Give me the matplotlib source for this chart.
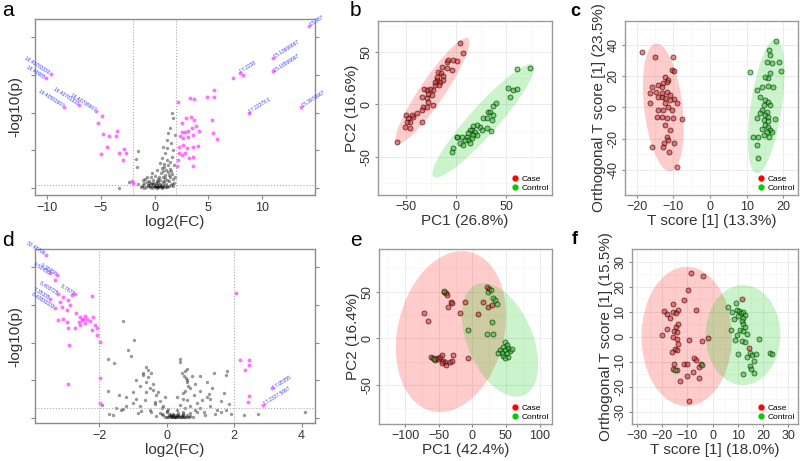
import matplotlib
matplotlib.use('Agg')
import matplotlib.pyplot as plt
from matplotlib.patches import Ellipse
from matplotlib.lines import Line2D
from matplotlib.ticker import MultipleLocator

plt.rcParams['font.family'] = ['Liberation Sans', 'DejaVu Sans']

# ---------------- data ----------------

# a: volcano plot, non-significant features (black)
a_bg_x = [1.66, 1.75, 1.44, 1.29, 1.13, 0.82, 0.98, 0.67, 0.51, 1.13, 1.6, 1.75, 0.2, -0.26, -0.73,
          -1.04, -1.57, -1.75, -1.66, -3.3, -2.34, 1.5, 1.9, 1.2, 1.85, 1.4, 0.9, 1.0, 0.6, 0.3,
          -1.5, -1.2, -1.0, -0.8, -0.6, -0.5, -0.4, -0.3, -0.2, -0.1, 0.0, 0.1, 0.15, 0.25, 0.35,
          0.45, 0.55, 0.6, 0.7, 0.8, 0.9, 1.0, 1.1, 1.2, 1.3, 1.45, 1.55, 1.7, 1.85, -0.9,
          -0.7, 0.05, 0.4, 0.75, -0.35, 1.25, 1.65, 0.2, -0.15, 0.5, 0.3, 0.1, -0.05, 0.65, 0.85,
          -1.3, -1.1, -0.95, -0.55, -0.25, 0.0, 0.2, 0.4, 0.65, 0.95, 1.15, 1.35, 1.6, -0.45, 0.8,
          1.05, 1.25, 1.45, 0.7, 0.9, 1.55, 1.35, 1.15, -0.1, 0.3, 0.55, 0.75, 1.7, 1.9, -0.65]
a_bg_y = [19.9, 18.5, 15.9, 14.5, 12.8, 11.0, 9.2, 7.9, 6.6, 7.4, 8.3, 10.1, 4.8, 3.9, 3.0,
          2.1, 9.7, 7.6, 5.7, 0.1, 1.7, 12.0, 14.0, 10.5, 6.0, 5.0, 5.5, 3.5, 4.0, 2.5,
          1.0, 0.5, 1.2, 0.3, 0.8, 1.8, 0.2, 1.0, 0.5, 2.0, 0.3, 1.2, 0.6, 0.2, 1.5,
          0.4, 2.2, 0.9, 0.3, 1.6, 0.7, 2.6, 1.0, 0.4, 1.9, 3.0, 0.8, 2.4, 1.3, 2.4,
          1.6, 3.2, 3.0, 2.9, 2.8, 4.2, 3.8, 1.8, 1.4, 1.1, 0.6, 0.9, 0.4, 0.5, 1.9,
          0.2, 0.8, 0.1, 0.4, 0.1, 0.6, 0.1, 0.2, 0.1, 0.3, 0.2, 0.5, 1.1, 1.3, 4.6,
          4.8, 6.2, 7.0, 5.2, 6.4, 4.4, 3.4, 2.2, 1.0, 0.7, 0.5, 0.4, 0.6, 3.0, 0.9]

# a: significant features (magenta)
a_sig_x = [-9.66, -10.1, -8.39, -7.02, -5.44, -4.86, -5.23, -4.76, -4.2, -3.61, -3.46, -4.45, -4.98,
           -3.3, -2.81, -2.65, -2.96, -2.0, -2.05, 2.22, 3.33, 3.67, 4.91, 5.56, 5.56, 5.32, 5.47,
           5.84, 7.27, 7.89, 8.26, 8.73, 11.0, 11.0, 14.37, 13.63, 2.53, 2.9, 3.36, 3.71, 2.53,
           2.84, 3.15, 3.46, 3.86, 4.17, 2.37, 2.68, 3.15, 3.61, 2.28, 2.62, 2.99, 3.55, 4.02,
           2.28, 2.53, 2.84, 3.21, 3.61, 3.55, 2.22, 2.06]
a_sig_y = [30.3, 29.1, 21.5, 22.1, 20.5, 19.1, 17.4, 14.3, 13.8, 13.9, 15.2, 11.0, 9.0,
           9.4, 10.3, 9.4, 7.4, 1.3, 1.8, 22.8, 23.9, 23.6, 24.1, 26.1, 24.2, 18.1, 14.5,
           12.9, 29.3, 30.5, 30.0, 19.9, 34.6, 31.0, 43.1, 21.6, 17.2, 18.7, 18.8, 18.1, 15.0,
           15.0, 15.2, 15.9, 16.5, 15.2, 13.7, 13.2, 13.5, 14.1, 11.0, 11.3, 10.5, 11.0, 11.2,
           9.2, 8.8, 9.2, 7.9, 8.2, 5.9, 7.4, 5.9]

# a: annotated features
a_lab_left = ['16.40783333', '16.40985', '16.40581667', '16.40781333', '16.40798667']
a_lab_left_x = [-9.66, -10.1, -8.39, -7.02, -5.44]
a_lab_left_y = [30.3, 29.1, 21.5, 22.1, 20.5]
a_lab_right = ['17.2238', '15.13666667', '15.18566667', '17.22378.1', '15.3970667', '15.387']
a_lab_right_x = [7.89, 11.0, 11.0, 8.73, 13.63, 14.37]
a_lab_right_y = [30.5, 34.6, 31.0, 19.9, 21.6, 43.1]

# d: volcano plot, non-significant features
d_bg_x = [-1.28, -0.98, -1.13, -1.05, -1.75, -1.55, -0.6, -0.55, -0.7, -0.45, 0.4, 0.4, 0.55, 0.6,
          0.75, 0.6, 1.8, 1.75, 1.4, 1.2, 1.35, 1.7, -1.75, -1.4, -1.2, -0.8, -0.6, -0.4, -0.3,
          -0.2, -0.1, 0.0, 0.1, 0.2, 0.3, 0.4, 0.5, 0.55, 0.65, 0.8, 0.9, 1.0, 1.1, 1.3, 1.5,
          1.9, 2.7, -0.5, -0.8, -1.0, -1.5, -1.7, -0.3, 0.15, 0.25, 0.35, -0.1, 0.45, 0.6, 0.7,
          -0.2, 0.05, 0.5, 0.3, -0.05, 0.85, -0.9, 1.0, -1.9, 2.3, 1.6, 1.2, -0.65, -0.35, 0.2,
          0.1, 0.3, 0.5, 0.7, 0.9, 1.15, -0.45, -0.75, -1.3, 1.45, 1.75, 0.0, 0.35, 0.55, 4.1,
          0.12, 0.22, 0.32, 0.42, 0.52, 0.62, 0.18, 0.28, 0.48, -0.6, -0.9, -1.2, 1.0, 1.3, 0.58,
          -0.7, -0.55, -0.4, -0.25, -0.5, -0.35, -0.15, 0.45, 0.52, 0.6, 0.68, 0.5, 0.62, 0.7,
          0.85, 1.05, 1.25, -1.0, -1.35, -0.85, -0.15, 0.0, 0.08, 0.38, 0.78, 1.6, 1.85, -1.6,
          0.05, 0.14, 0.26, 0.36, 0.46, 0.56, -0.05, 0.66]
d_bg_y = [25.8, 20.8, 18.0, 16.5, 15.5, 14.5, 13.5, 12.8, 11.5, 11.9, 15.5, 14.8, 12.5, 13.0,
          11.0, 10.0, 12.5, 11.5, 12.0, 9.5, 7.8, 6.5, 7.0, 6.0, 5.5, 8.5, 9.5, 7.5, 6.0,
          4.5, 3.0, 1.5, 0.5, 1.0, 2.0, 3.5, 5.0, 7.0, 8.5, 6.0, 4.0, 2.5, 1.5, 3.0, 2.0,
          1.0, 1.0, 2.0, 3.0, 4.0, 2.5, 1.0, 0.5, 0.2, 0.3, 0.8, 0.8, 0.4, 0.6, 1.2,
          1.2, 2.2, 1.6, 5.5, 5.5, 9.0, 10.0, 11.0, 3.5, 0.7, 4.5, 5.5, 4.8, 3.6, 0.6,
          1.1, 0.4, 0.9, 0.5, 1.4, 0.8, 1.5, 1.8, 2.2, 1.0, 2.0, 0.3, 1.3, 2.6, 1.5,
          0.1, 0.2, 0.1, 0.3, 0.1, 0.2, 0.5, 0.7, 0.6, 6.8, 5.0, 3.2, 7.0, 5.0, 10.5,
          12.0, 10.8, 9.0, 6.8, 8.0, 4.2, 2.6, 12.0, 11.0, 9.6, 8.0, 6.5, 4.6, 3.2,
          2.0, 4.8, 6.2, 6.8, 2.0, 1.2, 0.9, 1.8, 0.7, 0.2, 0.3, 1.4, 3.6, 0.8,
          0.1, 0.4, 0.2, 0.5, 0.2, 0.3, 0.2, 0.3]

# d: significant features
d_sig_x = [-3.58, -3.46, -3.26, -3.31, -3.21, -3.06, -3.16, -2.91, -2.81, -2.72, -3.46, -3.31, -3.11,
           -2.96, -2.86, -2.57, -2.47, -2.52, -2.42, -2.35, -2.59, -2.42, -2.27, -2.17, -2.12,
           -2.07, -2.22, -2.05, -1.97, -2.88, -2.71, -2.91, -3.21, -3.06, -2.20, -2.96, -2.67,
           -2.57, -1.97, -2.91, -1.97, 2.06, 2.18, 2.43, 2.43, 2.33, 2.43, 2.41, 2.85, 3.12]
d_sig_y = [43.4, 38.4, 37.9, 36.6, 32.9, 32.2, 30.9, 31.3, 32.6, 32.8, 31.7, 29.1, 29.5,
           28.6, 30.0, 26.9, 26.4, 26.0, 27.0, 26.4, 25.5, 25.1, 25.8, 26.9, 24.7,
           23.8, 23.3, 22.0, 20.2, 19.3, 23.8, 23.8, 26.0, 26.2, 32.5, 25.5, 27.8,
           24.7, 10.5, 9.0, 3.8, 33.1, 15.4, 15.4, 14.0, 12.7, 5.9, 4.3, 3.4, 7.8]

d_lab_left = ['32.48706', '9.53456', '9.30958', '8.7678', '8.403725', '7.35335', '8.43833333']
d_lab_left_x = [-3.58, -3.46, -3.26, -2.72, -3.21, -3.46, -3.31]
d_lab_left_y = [43.4, 38.4, 37.9, 32.8, 32.9, 31.7, 29.1]
d_lab_right = ['17.05355', '17.2327.5867']
d_lab_right_x = [3.12, 2.85]
d_lab_right_y = [7.8, 3.4]

# b: PCA scores
b_case_x = [4.0, 7.3, -2.7, 0.7, -9.3, -13.7, -17.7, -15.0, -12.7, -19.3, -16.0, -12.7, -21.0, -16.7,
            -22.7, -26.0, -29.3, -32.0, -27.7, -24.3, -29.3, -34.3, -27.7, -32.7, -29.3, -39.3,
            -34.3, -42.7, -44.3, -46.0, -47.7, -49.3, -51.0, -46.0, -50.0, -34.3, -59.3, -22.7,
            -19.3, -21.0, -9.3, -4.3, -7.7]
b_case_y = [58.1, 48.5, 42.2, 41.6, 40.6, 35.8, 31.1, 29.5, 27.0, 23.1, 21.6, 23.1, 18.4, 18.4,
            13.6, 14.2, 13.6, 14.2, 9.8, 8.9, 5.7, 7.3, 2.5, -2.2, -2.2, -8.6,
            -5.4, -11.7, -10.2, -16.5, -13.3, -16.5, -21.3, -22.9, -10.2, -17.1, -36.2, -0.7,
            26.3, 21.6, 34.3, 32.7, 42.2]
b_ctrl_x = [60.7, 74.0, 51.7, 57.3, 61.3, 54.0, 40.0, 37.3, 32.3, 34.0, 27.3, 30.7, 35.7, 24.0,
            20.7, 17.3, 15.7, 19.0, 14.0, 12.3, 17.3, 10.7, 15.7, 12.3, 14.0, 5.7, 1.3, 4.0,
            7.3, 9.0, -2.7, -4.3, 0.7, 25.7, 34.7, 37.3, 31.3, 20.7]
b_ctrl_y = [33.3, 34.3, 15.2, 13.6, 14.2, 7.3, 0.9, -1.6, -7.0, -7.0, -13.3, -13.3, -14.9, -21.3,
            -19.7, -20.6, -24.4, -26.0, -24.4, -27.6, -29.2, -30.8, -32.4, -34.0, -36.5, -30.8, -30.8, -37.1,
            -38.7, -34.0, -41.9, -45.1, -30.8, -24.4, -25.4, -10.2, -22.9, -29.2]
b_ell_case = [-23.5, 12.8, 123, 24, 54.4]   # centre x, centre y, width, height, angle
b_ell_ctrl = [27.3, -15.8, 146, 28, 46.8]

# c: OPLS-DA scores
c_case_x = [-18.5, -15.0, -10.0, -10.5, -9.8, -12.3, -11.4, -12.8, -11.8, -14.1, -13.2, -15.9, -16.4,
            -14.8, -13.2, -11.8, -10.9, -9.8, -9.1, -10.9, -12.3, -13.2, -14.1, -16.4, -12.3, -11.4,
            -12.8, -14.1, -10.5, -13.2, -14.6, -11.8, -10.0, -7.7, -12.3, -10.9, -11.8, -11.4, -12.6,
            -9.8, -12.8, -15.9, -11.1, -8.9]
c_case_y = [35.7, 32.5, 32.5, 24.0, 23.6, 19.7, 17.6, 15.9, 16.5, 14.4, 13.3, 12.9, 9.1,
            10.1, 9.5, 10.1, 8.0, 5.4, 2.7, 4.8, 5.9, 6.9, 6.5, 2.7, 3.1, 0.5,
            -1.6, -1.6, -1.6, -5.9, -6.3, -6.9, -6.9, -7.4, -11.2, -14.4, -18.7, -20.8, -22.9,
            -22.5, -25.1, -25.5, -28.3, -38.3]
c_ctrl_x = [17.9, 16.2, 16.4, 15.5, 16.8, 18.7, 10.9, 19.3, 16.4, 15.9, 15.0, 14.1, 15.8, 17.1,
            12.8, 13.7, 15.0, 15.7, 14.6, 16.4, 14.1, 15.5, 13.7, 15.0, 15.9, 12.8, 14.6, 15.7,
            17.8, 15.0, 15.9, 16.4, 14.1, 15.5, 11.7, 13.2, 14.6, 16.0, 16.8, 12.8, 13.0]
c_ctrl_y = [42.8, 36.8, 33.6, 29.3, 28.7, 29.3, 22.9, 23.3, 21.9, 18.7, 19.3, 13.3, 13.8, 12.9,
            11.2, 6.9, 4.8, 3.7, 1.6, 1.6, -1.6, -2.7, -3.7, -4.8, -5.9, -6.9, -8.0, -8.4,
            -7.6, -11.2, -12.3, -14.4, -14.0, -15.5, -18.7, -18.7, -17.6, -18.7, -15.9, -24.0, -32.5]
c_ell_case = [-12.75, 0.0, 82, 10.5, 92.6]
c_ell_ctrl = [15.35, 0.8, 86, 8.6, 86.6]

# e: PCA scores
e_case_x = [-71.5, -66.6, -41.7, -39.7, -38.3, -32.3, -30.8, -35.8, -10.9, -18.4, 8.9, 16.4, 23.8,
            28.8, 22.4, 25.3, -62.1, -58.1, -55.6, -53.2, -50.7, -48.2, -45.7, -43.2, -40.7,
            -45.7, -39.2, -33.3, -29.8, -28.3, -6.0]
e_case_y = [27.5, 18.9, 50.0, 48.2, 46.4, 39.3, 38.2, 33.9, 39.3, 27.5, 26.1, 39.3, 33.2,
            35.7, 55.4, 52.5, -19.6, -21.4, -23.2, -20.7, -22.5, -19.6, -17.9, -23.9, -25.0,
            -26.8, -28.6, -25.0, -24.3, -17.9, -20.7]
e_ctrl_x = [-41.7, 23.8, 27.3, 31.3, 33.8, 37.3, 28.8, 31.3, 21.4, -7.0, 48.7, 51.2, 46.2, 53.7,
            41.2, 48.7, 56.1, 43.7, 51.2, 46.2, 53.7, 48.7, 58.6, 38.7, -57.1]
e_ctrl_y = [50.7, 50.0, 51.8, 42.9, 41.1, 36.8, 17.9, 4.6, 4.6, 8.9, -3.6, -7.1, -8.9, -10.7,
            -12.5, -12.5, -13.2, -16.1, -16.1, -18.9, -19.6, -21.4, -11.8, -15.4, -22.5]
e_ell_case = [-31.8, 7.1, 185, 150, 52]
e_ell_ctrl = [41.2, -1.8, 141, 89, -49.4]

# f: OPLS-DA scores
f_case_x = [-8.6, -3.7, -9.7, -11.4, -15.9, -13.6, -19.3, -18.3, -15.6, -14.7, -17.0, -6.8, -18.0,
            -14.6, -13.6, -15.4, -14.3, -19.9, -15.6, -14.3, -9.3, -4.4, -1.7, -13.9, -15.0, -14.3,
            -16.3, -7.3, -6.8, -15.4, -11.4, -10.3, -7.9, -15.6, -14.3, -10.3, -5.3, -13.0, -9.3,
            -5.3, -4.6, 11.5, 14.2]
f_case_y = [25.3, 24.3, 18.7, 14.9, 13.3, 10.7, 10.3, 9.3, 10.0, 9.7, 7.7, 10.7, 3.3,
            4.0, 5.1, 2.4, 2.0, 0.7, 0.0, -0.7, -1.3, -1.6, -0.3, -2.9, -4.7, -5.3,
            -6.0, -8.3, -9.3, -10.7, -10.7, -10.7, -14.0, -12.7, -13.1, -15.6, -16.3, -17.6, -25.6,
            -12.0, -10.7, 15.3, -4.4]
f_ctrl_x = [6.2, 9.3, 7.5, 8.5, 9.5, 10.6, 11.3, 12.2, 12.8, 10.2, 12.2, 11.7, 12.2, 12.8,
            7.3, 10.9, 12.2, 13.5, 9.5, 8.9, 11.5, 12.8, 10.2, 13.5, 14.8, 15.5, 17.2,
            18.5, 22.8, 23.4, 16.2, 14.6, 15.2, 16.2, 12.2, -14.8, -4.4]
f_ctrl_y = [12.0, 13.6, 10.0, 7.3, 10.7, 10.3, 9.6, 10.0, 8.7, 8.3, 7.6, 6.4, 5.3, 4.0,
            2.9, 2.7, 2.3, 1.1, 0.7, -1.3, -1.6, -2.0, -6.7, -8.0, -6.4, -7.3, -6.7,
            -0.7, -6.4, -6.9, -9.7, -11.7, -12.7, -14.4, -14.7, -13.3, -11.3]
f_ell_case = [-10.3, 0.1, 35.8, 55.7, 0]
f_ell_ctrl = [12.0, 0.7, 29.6, 40.0, 0]


# ---------------- helpers ----------------
def volcano(ax, bg_x, bg_y, sig_x, sig_y, lab_l, lab_lx, lab_ly, lab_r, lab_rx, lab_ry,
            xlim, ylim, xticks, hline):
    ax.scatter(bg_x, bg_y, s=6, color='black', alpha=0.4, linewidths=0)
    ax.scatter(sig_x, sig_y, s=8, color='#FF44FF', alpha=0.75, linewidths=0)
    ax.axvline(-2, color='#AAAAAA', lw=0.8, ls=':')
    ax.axvline(2, color='#AAAAAA', lw=0.8, ls=':')
    ax.axhline(hline, color='#AAAAAA', lw=0.8, ls=':')
    for t, x, y in zip(lab_l, lab_lx, lab_ly):
        ax.text(x, y, t + ' ', fontsize=3.5, color='#3A3AFF', rotation=-32, rotation_mode='anchor',
                ha='right', va='center', clip_on=False)
    for t, x, y in zip(lab_r, lab_rx, lab_ry):
        ax.text(x, y, ' ' + t, fontsize=3.5, color='#3A3AFF', rotation=32, rotation_mode='anchor',
                ha='left', va='center', clip_on=False)
    ax.set_xlim(xlim)
    ax.set_ylim(ylim)
    ax.set_xticks(xticks)
    ax.set_yticks([0, 10, 20, 30, 40])
    ax.tick_params(left=True, right=True, labelleft=False, length=3, color='#888888',
                   labelsize=9, labelcolor='#333333', pad=2)
    for s in ax.spines.values():
        s.set_color('#8C8C8C')
        s.set_linewidth(1)
    ax.set_xlabel('log2(FC)', fontsize=11, color='#333333', labelpad=1)
    ax.set_ylabel('-log10(p)', fontsize=11, color='#333333', labelpad=6)


def scores(ax, case_x, case_y, ctrl_x, ctrl_y, ell_case, ell_ctrl, xlim, ylim, xticks, yticks,
           xlabel, ylabel):
    ax.set_axisbelow(True)
    for e, col in [(ell_case, (1, 0, 0, 0.2)), (ell_ctrl, (0, 0.8, 0, 0.2))]:
        ax.add_patch(Ellipse((e[0], e[1]), e[2], e[3], angle=e[4], facecolor=col, edgecolor='none'))
    ax.scatter(case_x, case_y, s=13, facecolors=[(0.85, 0.15, 0.15, 0.55)],
               edgecolors=[(0.1, 0, 0, 0.65)], linewidths=0.6)
    ax.scatter(ctrl_x, ctrl_y, s=13, facecolors=[(0.15, 0.75, 0.15, 0.55)],
               edgecolors=[(0, 0.1, 0, 0.65)], linewidths=0.6)
    ax.set_xlim(xlim)
    ax.set_ylim(ylim)
    ax.set_xticks(xticks)
    ax.set_yticks(yticks)
    ax.set_yticklabels([str(v) for v in yticks], rotation=90, va='center')
    ax.xaxis.set_minor_locator(MultipleLocator((xticks[1] - xticks[0]) / 2))
    ax.yaxis.set_minor_locator(MultipleLocator((yticks[1] - yticks[0]) / 2))
    ax.tick_params(which='minor', length=0)
    ax.tick_params(which='major', length=2.5, color='#888888', labelsize=9, labelcolor='#333333', pad=1.5)
    ax.grid(True, which='major', color='#EBEBEB', lw=0.7)
    ax.grid(True, which='minor', color='#F4F4F4', lw=0.5)
    for s in ax.spines.values():
        s.set_color('#9A9A9A')
        s.set_linewidth(1)
    ax.set_xlabel(xlabel, fontsize=11, color='#333333', labelpad=1)
    ax.set_ylabel(ylabel, fontsize=11, color='#333333', labelpad=1)
    handles = [Line2D([], [], marker='o', ls='', color='#FF0000', markersize=3.5, label='Case'),
               Line2D([], [], marker='o', ls='', color='#00CC00', markersize=3.5, label='Control')]
    ax.legend(handles=handles, loc='lower right', frameon=False, fontsize=6, handletextpad=0.1,
              borderaxespad=0.2, labelspacing=0.15, handlelength=1.2, borderpad=0.2)


# ---------------- figure ----------------
fig = plt.figure(figsize=(8, 4.61), dpi=100)

ax_a = fig.add_axes([0.04375, 0.577, 0.35, 0.3818])
volcano(ax_a, a_bg_x, a_bg_y, a_sig_x, a_sig_y, a_lab_left, a_lab_left_x, a_lab_left_y,
        a_lab_right, a_lab_right_x, a_lab_right_y, (-11.1, 14.9), (-1.86, 44.9), [-10, -5, 0, 5, 10], 0.8)

ax_d = fig.add_axes([0.04375, 0.0824, 0.35, 0.3774])
volcano(ax_d, d_bg_x, d_bg_y, d_sig_x, d_sig_y, d_lab_left, d_lab_left_x, d_lab_left_y,
        d_lab_right, d_lab_right_x, d_lab_right_y, (-3.9, 4.4), (-1.41, 44.9), [-2, 0, 2, 4], 2.7)

ax_b = fig.add_axes([0.4725, 0.577, 0.2175, 0.3774])
scores(ax_b, b_case_x, b_case_y, b_ctrl_x, b_ctrl_y, b_ell_case, b_ell_ctrl, (-78, 96), (-86.4, 79.3),
       [-50, 0, 50], [-50, 0, 50], 'PC1 (26.8%)', 'PC2 (16.6%)')

ax_c = fig.add_axes([0.78125, 0.577, 0.21625, 0.378])
scores(ax_c, c_case_x, c_case_y, c_ctrl_x, c_ctrl_y, c_ell_case, c_ell_ctrl, (-23.2, 24.0), (-56, 55.5),
       [-20, -10, 0, 10, 20], [-40, -20, 0, 20, 40], 'T score [1] (13.3%)', 'Orthogonal T score [1] (23.5%)')

ax_e = fig.add_axes([0.47375, 0.0796, 0.21625, 0.3803])
scores(ax_e, e_case_x, e_case_y, e_ctrl_x, e_ctrl_y, e_ell_case, e_ell_ctrl, (-139, 118.6), (-92.2, 95.7),
       [-100, -50, 0, 50, 100], [-50, 0, 50], 'PC1 (42.4%)', 'PC2 (16.4%)')

ax_f = fig.add_axes([0.7896, 0.0796, 0.2079, 0.3803])
scores(ax_f, f_case_x, f_case_y, f_ctrl_x, f_ctrl_y, f_ell_case, f_ell_ctrl, (-32.1, 33.8), (-35, 35.1),
       [-30, -20, -10, 0, 10, 20, 30], [-30, -20, -10, 0, 10, 20, 30], 'T score [1] (18.0%)',
       'Orthogonal T score [1] (15.5%)')

# panel letters
fig.text(2 / 800, 1 - 1 / 461, 'a', fontsize=15, va='top')
fig.text(350 / 800, 1 - 1 / 461, 'b', fontsize=15, va='top')
fig.text(570 / 800, 1 - 3 / 461, 'c', fontsize=13, va='top', fontweight='bold')
fig.text(2 / 800, 1 - 231 / 461, 'd', fontsize=15, va='top')
fig.text(350 / 800, 1 - 231 / 461, 'e', fontsize=15, va='top')
fig.text(572 / 800, 1 - 231 / 461, 'f', fontsize=13, va='top', fontweight='bold')

plt.savefig('out.png', dpi=100)
